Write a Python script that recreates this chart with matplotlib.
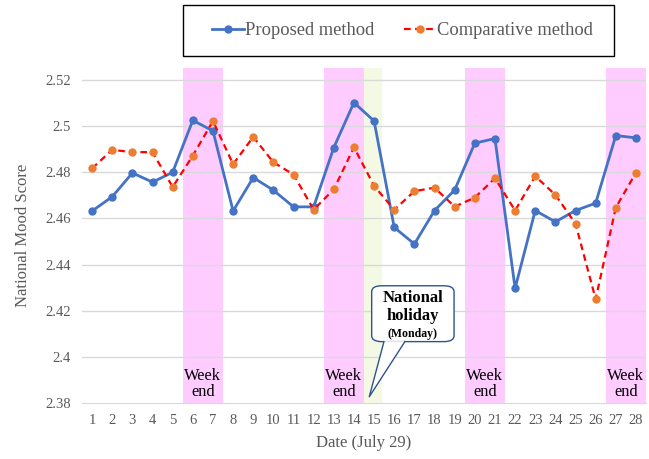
import matplotlib
matplotlib.use("Agg")
import matplotlib.pyplot as plt
from matplotlib.patches import FancyBboxPatch, Polygon, Rectangle

plt.rcParams['font.family'] = ['Liberation Serif', 'DejaVu Serif']

days = list(range(1, 29))
proposed = [2.4632, 2.4694, 2.4797, 2.4757, 2.4800, 2.5025, 2.4979, 2.4632, 2.4777, 2.4722,
            2.4650, 2.4650, 2.4907, 2.5102, 2.5022, 2.4561, 2.4489, 2.4634, 2.4723, 2.4926,
            2.4946, 2.4297, 2.4634, 2.4585, 2.4634, 2.4666, 2.4959, 2.4949]
comparative = [2.4817, 2.4897, 2.4887, 2.4887, 2.4736, 2.4872, 2.5022, 2.4835, 2.4953, 2.4843,
               2.4790, 2.4638, 2.4726, 2.4908, 2.4741, 2.4637, 2.4718, 2.4733, 2.4651, 2.4690,
               2.4774, 2.4634, 2.4783, 2.4702, 2.4577, 2.4250, 2.4647, 2.4798]
weekends = [(6, 7), (13, 14), (20, 21), (27, 28)]
holiday = 15
yticks = [2.38, 2.4, 2.42, 2.44, 2.46, 2.48, 2.5, 2.52]
ytick_labels = ['2.38', '2.4', '2.42', '2.44', '2.46', '2.48', '2.5', '2.52']

fig = plt.figure(figsize=(6.49, 4.59), dpi=100)
ax = fig.add_axes([0.1264, 0.122, 0.869, 0.730])
ax.set_xlim(0.5, 28.5)
ax.set_ylim(2.38, 2.5252)

gray = '#595959'
for a, b in weekends:
    ax.axvspan(a - 0.5, b + 0.5, color='#FFCCFF', lw=0, zorder=0)
    ax.text((a + b) / 2, 2.3812, 'Week\nend', ha='center', va='bottom',
            fontsize=11.8, color='black', linespacing=1.0, zorder=1)
ax.axvspan(holiday - 0.5, holiday + 0.4, color='#F4F9E3', lw=0, zorder=0)

for t in yticks[1:]:
    ax.axhline(t, color='#D9D9D9', lw=1, zorder=0.5)

ax.plot(days, proposed, color='#4472C4', lw=2, marker='o', ms=5, zorder=3,
        label='Proposed method')
ax.plot(days, comparative, color='#FF0000', lw=1.6, ls=(0, (3, 2)), marker='o', ms=5,
        mfc='#ED7D31', mec='#ED7D31', zorder=3, label='Comparative method')

ax.set_xticks(days)
ax.set_yticks(yticks)
ax.set_yticklabels(ytick_labels)
ax.tick_params(axis='both', length=0, labelsize=10.5, labelcolor=gray, pad=8)
for s in ['top', 'right', 'left']:
    ax.spines[s].set_visible(False)
ax.spines['bottom'].set_color('#D9D9D9')
ax.set_xlabel('Date (July 29)', fontsize=12, color=gray, labelpad=6)
ax.set_ylabel('National Mood Score', fontsize=12, color=gray, labelpad=10)

# callout for the national holiday
edge = '#2F528F'
box = FancyBboxPatch((14.88, 2.4066), 4.09, 0.0242,
                     boxstyle='round,pad=0,rounding_size=0.5', mutation_aspect=0.0052,
                     fc='white', ec=edge, lw=1, zorder=4)
ax.add_patch(box)
tail = Polygon([(15.49, 2.4068), (16.53, 2.4068), (14.76, 2.3827)], closed=True,
               fc='white', ec='none', zorder=5)
ax.add_patch(tail)
ax.plot([15.49, 14.76, 16.53], [2.4066, 2.3827, 2.4066], color=edge, lw=1, zorder=6)
ax.text(16.92, 2.4255, 'National', ha='center', va='center', fontsize=12,
        fontweight='bold', zorder=7)
ax.text(16.92, 2.4175, 'holiday', ha='center', va='center', fontsize=12,
        fontweight='bold', zorder=7)
ax.text(16.92, 2.4100, '(Monday)', ha='center', va='center', fontsize=8.5,
        fontweight='bold', zorder=7)

# legend with a hand-placed frame
leg = fig.legend(loc='center left', bbox_to_anchor=(212 / 649, 1 - 30.5 / 459), ncol=2,
                 fontsize=13.3, frameon=False, handlelength=1.75, columnspacing=1.6,
                 borderpad=0, handletextpad=0.05, borderaxespad=0)
for t in leg.get_texts():
    t.set_color(gray)
fig.patches.append(Rectangle((183 / 649, 1 - 56 / 459), 431 / 649, 51 / 459,
                             transform=fig.transFigure, fill=False, ec='black', lw=1))

fig.savefig('out.png', dpi=100)
